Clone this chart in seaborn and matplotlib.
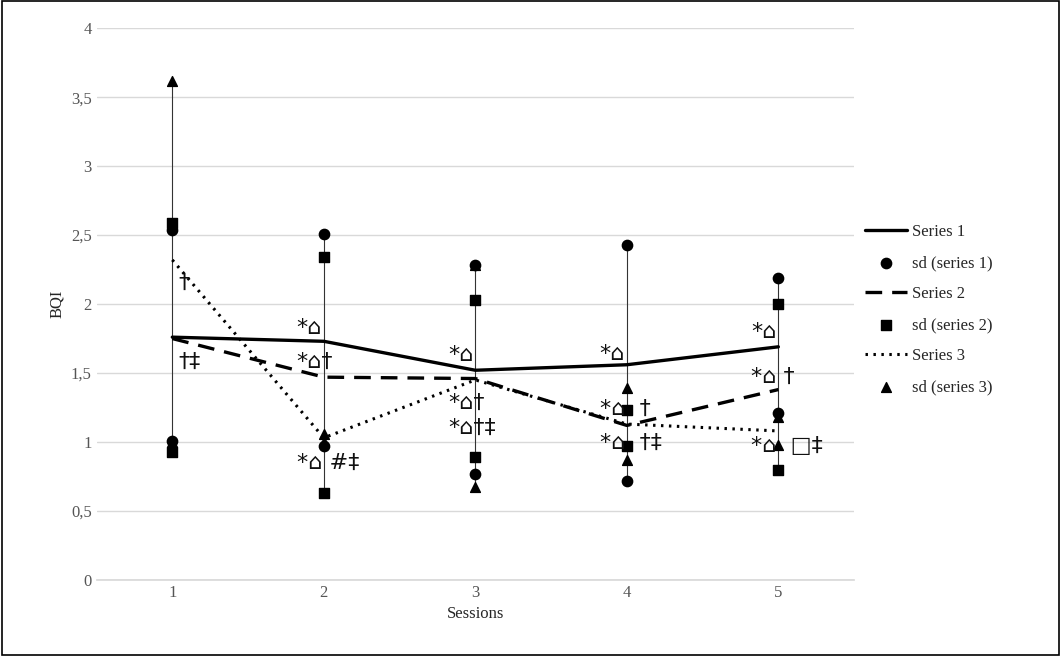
import matplotlib.pyplot as plt
import seaborn as sns
import pandas as pd

sessions = [1, 2, 3, 4, 5]
series1 = [1.76, 1.73, 1.52, 1.56, 1.69]
series2 = [1.75, 1.47, 1.46, 1.12, 1.38]
series3 = [2.32, 1.03, 1.45, 1.13, 1.08]

sd1_hi = [2.54, 2.51, 2.28, 2.43, 2.19]
sd1_lo = [1.01, 0.97, 0.77, 0.72, 1.21]
sd2_hi = [2.59, 2.34, 2.03, 1.23, 2.00]
sd2_lo = [0.93, 0.63, 0.89, 0.97, 0.80]
sd3_hi = [3.62, 1.06, 2.28, 1.39, 1.18]
sd3_lo = [1.00, 1.00, 0.67, 0.87, 0.98]

# significance marks: (x, y, text)
marks = [
    (1.04, 2.15, "†"), (1.04, 1.58, "†‡"),
    (1.82, 1.83, "*⌂"), (1.82, 1.58, "*⌂†"), (1.82, 0.85, "*⌂ #‡"),
    (2.82, 1.63, "*⌂"), (2.82, 1.28, "*⌂†"), (2.82, 1.10, "*⌂†‡"),
    (3.82, 1.64, "*⌂"), (3.82, 1.24, "*⌂  †"), (3.82, 0.99, "*⌂  †‡"),
    (4.82, 1.80, "*⌂"), (4.82, 1.47, "*⌂ †"), (4.82, 0.97, "*⌂  □‡"),
]

sns.set_theme(style="white")
plt.rcParams['font.family'] = ['Liberation Serif', 'DejaVu Serif', 'DejaVu Sans']

fig, ax = plt.subplots(figsize=(10.61, 6.56), dpi=100)
fig.subplots_adjust(left=0.091, right=0.805, top=0.957, bottom=0.116)

for i, x in enumerate(sessions):
    lo = min(sd1_lo[i], sd2_lo[i], sd3_lo[i])
    hi = max(sd1_hi[i], sd2_hi[i], sd3_hi[i])
    ax.plot([x, x], [lo, hi], color='#333333', lw=0.8, zorder=1)

df = pd.DataFrame({'Session': sessions, 's1': series1, 's2': series2, 's3': series3})
sns.lineplot(data=df, x='Session', y='s1', ax=ax, color='black', lw=2.4, label='Series 1', zorder=3)
ax.scatter(sessions * 2, sd1_hi + sd1_lo, marker='o', s=55, color='black', zorder=4, label='sd (series 1)')
sns.lineplot(data=df, x='Session', y='s2', ax=ax, color='black', lw=2.4, ls=(0, (5, 3)), label='Series 2', zorder=3)
ax.scatter(sessions * 2, sd2_hi + sd2_lo, marker='s', s=55, color='black', zorder=4, label='sd (series 2)')
sns.lineplot(data=df, x='Session', y='s3', ax=ax, color='black', lw=2.2, ls=(0, (0.8, 1.8)), label='Series 3', zorder=3)
ax.scatter(sessions * 2, sd3_hi + sd3_lo, marker='^', s=50, color='black', zorder=4, label='sd (series 3)')

for x, y, t in marks:
    ax.text(x, y, t, fontsize=16, ha='left', va='center', color='#111111',
            family=['DejaVu Sans'], zorder=5)

ax.set_xlim(0.5, 5.5)
ax.set_ylim(0, 4)
ax.set_xticks(sessions)
ax.set_yticks([0, 0.5, 1, 1.5, 2, 2.5, 3, 3.5, 4])
ax.set_yticklabels(['0', '0,5', '1', '1,5', '2', '2,5', '3', '3,5', '4'])
ax.tick_params(axis='both', labelsize=12, colors='#555555', length=0)
ax.yaxis.grid(True, color='#d9d9d9', lw=1)
for s in ['top', 'right', 'left']:
    ax.spines[s].set_visible(False)
ax.spines['bottom'].set_color('#d9d9d9')
ax.set_xlabel('Sessions', fontsize=12, labelpad=4)
ax.set_ylabel('BQI', fontsize=12)

ax.legend(loc='center left', bbox_to_anchor=(0.995, 0.49), frameon=False, fontsize=12,
          handlelength=2.5, handletextpad=0.3, labelspacing=0.9)

fig.patches.append(plt.Rectangle((0.002, 0.002), 0.996, 0.996, transform=fig.transFigure,
                                 fill=False, edgecolor='black', lw=1.2))
fig.savefig('out.png', dpi=100)
